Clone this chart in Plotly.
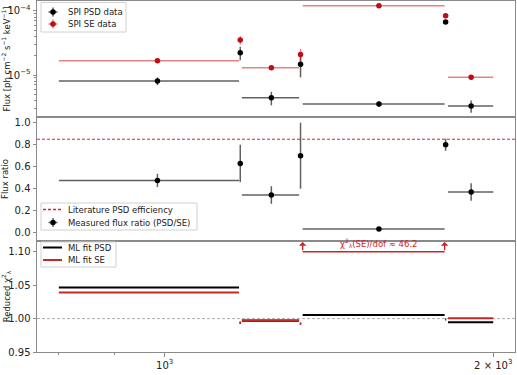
import numpy as np
import plotly.graph_objects as go
from plotly.subplots import make_subplots

# ---- data ----
energy_lo = [800, 1171, 1177, 1330, 1338, 1807, 1818]
energy_hi = [1170, 1175, 1328, 1334, 1805, 1811, 2000]

psd_flux = [8.05e-6, 2.23e-5, 4.41e-6, 1.47e-5, 3.52e-6, 6.73e-5, 3.28e-6]
psd_err = [1.1e-6, 5.3e-6, 1.05e-6, 5.5e-6, 3.5e-7, 1.5e-6, 7.0e-7]
se_flux = [1.67e-5, 3.52e-5, 1.30e-5, 2.10e-5, 1.21e-4, 8.45e-5, 9.2e-6]
se_err = [4e-7, 5.3e-6, 4e-7, 4.6e-6, 1.5e-6, 1.5e-6, 4e-7]

ratio = [0.476, 0.63, 0.343, 0.70, 0.034, 0.80, 0.37]
ratio_err = [0.06, 0.17, 0.08, 0.30, 0.01, 0.055, 0.08]
lit_eff = 0.85

chi2_psd = [1.0465, 0.994, 0.9966, 0.9925, 1.0055, 0.999, 0.9945]
chi2_se = [1.039, 0.9934, 0.9976, 0.9925, 46.2, 0.9985, 1.0003]

xtick_vals = [1000, 2000]
xtick_text = ["10<sup>3</sup>", "2 × 10<sup>3</sup>"]
xminor_vals = [800, 900]

# ---- derived ----
lo = np.array(energy_lo, float)
hi = np.array(energy_hi, float)
center = (lo + hi) / 2
half = (hi - lo) / 2

RED = "#c00c12"
RED_LINE = "#c62828"
RED_DASH = "#d62728"
BLACK = "black"
ERR_K = "rgba(0,0,0,0.62)"
ERR_R = "rgba(205,30,30,0.55)"
FRAME = "#8a8a8a"
TXT = "#222222"
FONT = "DejaVu Sans"

W, H = 517, 375
ML, MR, MT, MB = 37, 2, 1, 23
heights = [116, 124, 111]

fig = make_subplots(rows=3, cols=1, shared_xaxes=True, vertical_spacing=0,
                    row_heights=[h / sum(heights) for h in heights])

# top panel
fig.add_trace(go.Scatter(
    x=center, y=psd_flux, mode="markers", name="SPI PSD data", showlegend=False,
    marker=dict(color=BLACK, size=5.5),
    error_x=dict(type="data", array=half, color=ERR_K, thickness=1.5, width=0),
    error_y=dict(type="data", array=psd_err, color=ERR_K, thickness=1.5, width=0)),
    row=1, col=1)
fig.add_trace(go.Scatter(
    x=center, y=se_flux, mode="markers", name="SPI SE data", showlegend=False,
    marker=dict(color=RED, size=5.5),
    error_x=dict(type="data", array=half, color=ERR_R, thickness=1.5, width=0),
    error_y=dict(type="data", array=se_err, color=ERR_R, thickness=1.5, width=0)),
    row=1, col=1)

# middle panel
fig.add_trace(go.Scatter(
    x=center, y=ratio, mode="markers", name="Measured flux ratio (PSD/SE)",
    showlegend=False, marker=dict(color=BLACK, size=5.5),
    error_x=dict(type="data", array=half, color=ERR_K, thickness=1.5, width=0),
    error_y=dict(type="data", array=ratio_err, color=ERR_K, thickness=1.5, width=0)),
    row=2, col=1)
fig.add_hline(y=lit_eff, line=dict(color=RED_DASH, width=1, dash="3px,2px"),
              row=2, col=1, exclude_empty_subplots=False)

# bottom panel
def segs(vals):
    xs, ys = [], []
    for a, b, v in zip(energy_lo, energy_hi, vals):
        xs += [a, b, None]
        ys += [v, v, None]
    return xs, ys

xs, ys = segs(chi2_psd)
fig.add_trace(go.Scatter(x=xs, y=ys, mode="lines", name="ML fit PSD", showlegend=False,
                         line=dict(color=BLACK, width=2)), row=3, col=1)
xs, ys = segs(chi2_se)
fig.add_trace(go.Scatter(x=xs, y=ys, mode="lines", name="ML fit SE", showlegend=False,
                         line=dict(color=RED_LINE, width=2)), row=3, col=1)
fig.add_hline(y=1.0, line=dict(color="#999999", width=0.8, dash="3px,2px"), layer="below",
              row=3, col=1, exclude_empty_subplots=False)

# bracket for off-scale SE chi2
x0, x1 = energy_lo[4], energy_hi[4]
yb, yt = 1.100, 1.1145
fig.add_trace(go.Scatter(x=[x0, x1], y=[yb, yb], mode="lines", showlegend=False,
                         line=dict(color=RED_LINE, width=1.5), hoverinfo="skip"), row=3, col=1)
for xe in (x0, x1):
    fig.add_annotation(x=np.log10(xe), y=yt, ax=np.log10(xe), ay=yb,
                       xref="x3", yref="y3", axref="x3", ayref="y3",
                       showarrow=True, arrowhead=1, arrowsize=0.9, arrowwidth=1.4,
                       arrowcolor=RED_LINE, text="")
fig.add_annotation(x=np.log10(center[4]), y=yb + 0.0012, xref="x3", yref="y3",
                   text=f"χ<sup>2</sup><sub>λ</sub>(SE)/dof ≈ {chi2_se[4]:.1f}",
                   showarrow=False, yanchor="bottom", font=dict(size=8.5, color=RED_LINE))

# axes
xr = [np.log10(764), np.log10(2094)]
for r in (1, 2, 3):
    fig.update_xaxes(type="log", range=xr, showline=True, mirror=True, linecolor=FRAME,
                     linewidth=1, showgrid=False, zeroline=False, automargin=False,
                     tickvals=xtick_vals, ticktext=xtick_text, showticklabels=(r == 3),
                     ticks="outside" if r == 3 else "", ticklen=3.5, tickcolor=FRAME,
                     minor=dict(tickvals=xminor_vals + [2000], ticks="outside" if r == 3 else "",
                                ticklen=2, tickcolor=FRAME),
                     tickfont=dict(size=10, color=TXT), row=r, col=1)

ytop_minor = [k * 10.0 ** e for e in (-6, -5) for k in range(2, 10)]
fig.update_yaxes(type="log", range=[-5.656, -3.844], tickvals=[1e-5, 1e-4],
                 ticktext=["10<sup>−5</sup>", "10<sup>−4</sup>"],
                 minor=dict(tickvals=ytop_minor, ticks="outside", ticklen=2, tickcolor=FRAME),
                 title=dict(text="Flux [ph cm<sup>−2</sup> s<sup>−1</sup> keV<sup>−1</sup>]",
                            standoff=3), row=1, col=1)
fig.update_yaxes(range=[-0.075, 1.052], tickvals=[0, 0.2, 0.4, 0.6, 0.8, 1.0],
                 ticktext=["0.0", "0.2", "0.4", "0.6", "0.8", "1.0"],
                 title=dict(text="Flux ratio", standoff=4), row=2, col=1)
fig.update_yaxes(range=[0.95, 1.116], tickvals=[0.95, 1.0, 1.05, 1.10],
                 ticktext=["0.95", "1.00", "1.05", "1.10"],
                 title=dict(text="Reduced χ<sup>2</sup><sub>λ</sub>", standoff=3), row=3, col=1)
for r in (1, 2, 3):
    fig.update_yaxes(showline=True, mirror=True, linecolor=FRAME, linewidth=1,
                     showgrid=False, zeroline=False, ticks="outside", ticklen=3.5,
                     automargin=False, tickcolor=FRAME, tickfont=dict(size=10, color=TXT),
                     title_font=dict(size=8.5, color=TXT), row=r, col=1)

# ---- hand-drawn legends on a pixel-coordinate overlay axis ----
fig.update_layout(
    xaxis4=dict(domain=[0, 1], range=[ML, W - MR], visible=False, anchor="y4", fixedrange=True),
    yaxis4=dict(domain=[0, 1], range=[H - MB, MT], visible=False, anchor="x4", fixedrange=True),
)

def ov(trace):
    trace.update(xaxis="x4", yaxis="y4", showlegend=False, hoverinfo="skip")
    fig.add_trace(trace)

def legend_box(x0p, y0p, x1p, y1p):
    ov(go.Scatter(x=[x0p, x1p, x1p, x0p, x0p], y=[y0p, y0p, y1p, y1p, y0p], mode="lines",
                  fill="toself", fillcolor="rgba(255,255,255,0.85)",
                  line=dict(color="#d0d0d0", width=1)))

def legend_text(xp, yp, text):
    fig.add_annotation(x=xp, y=yp, xref="x4", yref="y4", text=text, showarrow=False,
                       xanchor="left", yanchor="middle", font=dict(size=8.5, color=TXT))

def err_glyph(xp, yp, mcol, ecol):
    ov(go.Scatter(x=[xp - 4.5, xp + 4.5, None, xp, xp], y=[yp, yp, None, yp - 4.5, yp + 4.5],
                  mode="lines", line=dict(color=ecol, width=1.5)))
    ov(go.Scatter(x=[xp], y=[yp], mode="markers", marker=dict(color=mcol, size=5.5)))

def line_glyph(xp0, xp1, yp, col, width, dash="solid"):
    ov(go.Scatter(x=[xp0, xp1], y=[yp, yp], mode="lines",
                  line=dict(color=col, width=width, dash=dash)))

# legend 1 (top panel)
legend_box(41, 2.5, 126, 32)
err_glyph(53, 12, BLACK, ERR_K)
legend_text(66, 12, "SPI PSD data")
err_glyph(53, 24, RED, ERR_R)
legend_text(66, 24, "SPI SE data")

# legend 2 (middle panel)
legend_box(41, 203, 197, 230)
line_glyph(43, 63, 209.5, RED_DASH, 1.5, "3px,2px")
legend_text(66, 209.5, "Literature PSD efficiency")
err_glyph(53, 222.5, BLACK, ERR_K)
legend_text(66, 222.5, "Measured flux ratio (PSD/SE)")

# legend 3 (bottom panel)
legend_box(41, 242, 116, 267)
line_glyph(43, 62, 247.5, BLACK, 2)
legend_text(66, 247.5, "ML fit PSD")
line_glyph(43, 62, 260, RED_LINE, 2)
legend_text(66, 260, "ML fit SE")

# x-axis title
fig.add_annotation(x=(ML + W - MR) / 2, y=369.5, xref="x4", yref="y4", text="Energy [keV]",
                   showarrow=False, xanchor="center", yanchor="middle",
                   font=dict(size=8.5, color=TXT))

fig.update_layout(
    width=W, height=H, margin=dict(l=ML, r=MR, t=MT, b=MB, autoexpand=False),
    paper_bgcolor="white", plot_bgcolor="rgba(0,0,0,0)",
    font=dict(family=FONT, color=TXT), showlegend=False, hovermode=False,
)

fig.write_html("out.html", config={"displayModeBar": False, "staticPlot": True},
               post_script="document.body.style.margin='0';document.body.style.overflow='hidden';")
